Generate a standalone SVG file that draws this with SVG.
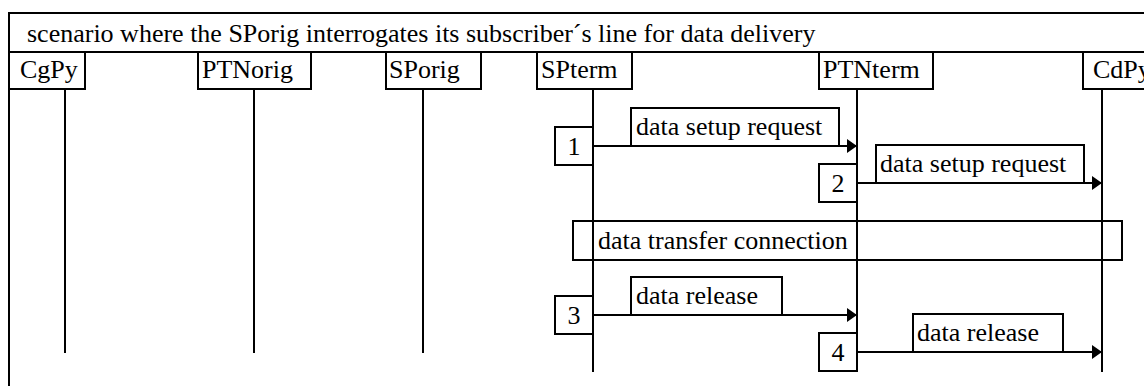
<svg xmlns="http://www.w3.org/2000/svg" width="1144" height="386" viewBox="0 0 1144 386">
  <defs>
    <style>
      .box { fill: none; stroke: #000; stroke-width: 2; }
      .line { fill: none; stroke: #000; stroke-width: 2; }
      .msg { fill: none; stroke: #000; stroke-width: 2; marker-end: url(#arrow); }
      text { font-family: "Liberation Serif", "Times New Roman", serif; font-size: 26px; fill: #000; }
      .num { text-anchor: middle; }
    </style>
    <marker id="arrow" viewBox="0 0 10 14" refX="10" refY="7" markerWidth="10" markerHeight="14" markerUnits="userSpaceOnUse" orient="auto">
      <path d="M0,0 L10,7 L0,14 Z" fill="#000"/>
    </marker>
  </defs>
  <rect width="1144" height="386" fill="#fff"/>

  <!-- outer frame and title bar -->
  <g id="frame">
    <path class="line" d="M9,386 V13 H1144 M9,52 H1144"/>
    <text x="27" y="42">scenario where the SPorig interrogates its subscriber´s line for data delivery</text>
  </g>

  <!-- participants with lifelines -->
  <g id="CgPy">
    <rect class="box" x="9" y="52" width="76" height="37"/>
    <text x="20" y="78">CgPy</text>
    <line class="line" x1="65" y1="89" x2="65" y2="353"/>
  </g>
  <g id="PTNorig">
    <rect class="box" x="198" y="52" width="113" height="37"/>
    <text x="202" y="78">PTNorig</text>
    <line class="line" x1="254" y1="89" x2="254" y2="353"/>
  </g>
  <g id="SPorig">
    <rect class="box" x="386" y="52" width="95" height="37"/>
    <text x="389" y="78">SPorig</text>
    <line class="line" x1="423" y1="89" x2="423" y2="353"/>
  </g>
  <g id="SPterm">
    <rect class="box" x="537" y="52" width="95" height="37"/>
    <text x="541" y="78">SPterm</text>
    <line class="line" x1="593" y1="89" x2="593" y2="372"/>
  </g>
  <g id="PTNterm">
    <rect class="box" x="819" y="52" width="114" height="37"/>
    <text x="823" y="78">PTNterm</text>
    <line class="line" x1="857" y1="89" x2="857" y2="372"/>
  </g>
  <g id="CdPy">
    <rect class="box" x="1083" y="52" width="80" height="37"/>
    <text x="1093" y="78">CdPy</text>
    <line class="line" x1="1102" y1="89" x2="1102" y2="372"/>
  </g>

  <!-- shared connection spanning SPterm to CdPy -->
  <g id="transfer">
    <rect class="box" x="573" y="221" width="549" height="39"/>
    <text x="598" y="249">data transfer connection</text>
  </g>

  <!-- step numbers -->
  <g id="step1">
    <rect class="box" x="555" y="127" width="38" height="38"/>
    <text class="num" x="574" y="155">1</text>
  </g>
  <g id="step2">
    <rect class="box" x="819" y="164" width="38" height="38"/>
    <text class="num" x="838" y="192">2</text>
  </g>
  <g id="step3">
    <rect class="box" x="555" y="296" width="38" height="38"/>
    <text class="num" x="574" y="324">3</text>
  </g>
  <g id="step4">
    <rect class="box" x="819" y="333" width="38" height="38"/>
    <text class="num" x="838" y="361">4</text>
  </g>

  <!-- messages -->
  <g id="connectors">
    <g id="msg1">
      <line class="msg" x1="593" y1="146" x2="857" y2="146"/>
      <rect class="box" x="631" y="108" width="208" height="38"/>
      <text x="636" y="135">data setup request</text>
    </g>
    <g id="msg2">
      <line class="msg" x1="857" y1="183" x2="1102" y2="183"/>
      <rect class="box" x="876" y="145" width="208" height="38"/>
      <text x="880" y="172">data setup request</text>
    </g>
    <g id="msg3">
      <line class="msg" x1="593" y1="315" x2="857" y2="315"/>
      <rect class="box" x="631" y="277" width="151" height="38"/>
      <text x="636" y="304">data release</text>
    </g>
    <g id="msg4">
      <line class="msg" x1="857" y1="352" x2="1102" y2="352"/>
      <rect class="box" x="913" y="314" width="150" height="38"/>
      <text x="917" y="341">data release</text>
    </g>
  </g>
</svg>
